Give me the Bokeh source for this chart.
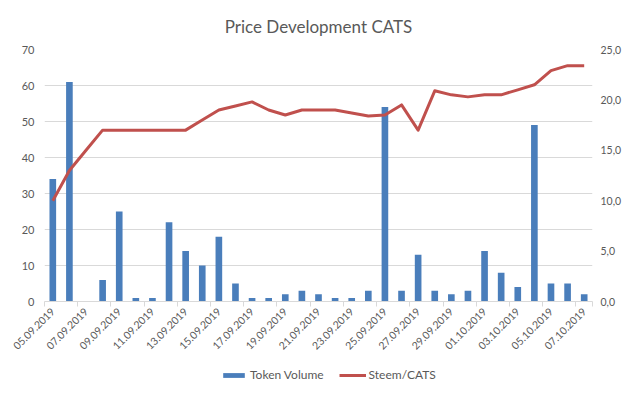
import math
from bokeh.plotting import figure
from bokeh.layouts import column
from bokeh.models import (Range1d, LinearAxis, FixedTicker, Legend, LegendItem,
                          ColumnDataSource)
from bokeh.embed import file_html
from bokeh.resources import INLINE

dates = ["05.09.2019", "06.09.2019", "07.09.2019", "08.09.2019", "09.09.2019",
         "10.09.2019", "11.09.2019", "12.09.2019", "13.09.2019", "14.09.2019",
         "15.09.2019", "16.09.2019", "17.09.2019", "18.09.2019", "19.09.2019",
         "20.09.2019", "21.09.2019", "22.09.2019", "23.09.2019", "24.09.2019",
         "25.09.2019", "26.09.2019", "27.09.2019", "28.09.2019", "29.09.2019",
         "30.09.2019", "01.10.2019", "02.10.2019", "03.10.2019", "04.10.2019",
         "05.10.2019", "06.10.2019", "07.10.2019"]
token_volume = [34, 61, 0, 6, 25, 1, 1, 22, 14, 10, 18, 5, 1, 1, 2, 3, 2, 1, 1, 3,
                54, 3, 13, 3, 2, 3, 14, 8, 4, 49, 5, 5, 2]
steem_cats = [10.0, 13.0, 15.0, 17.0, 17.0, 17.0, 17.0, 17.0, 17.0, 18.0, 19.0,
              19.4, 19.8, 19.0, 18.5, 19.0, 19.0, 19.0, 18.7, 18.4, 18.5, 19.5,
              17.0, 20.9, 20.5, 20.3, 20.5, 20.5, 21.0, 21.5, 22.9, 23.4, 23.4]
left_ticks = [0, 10, 20, 30, 40, 50, 60, 70]
right_ticks = [0, 5, 10, 15, 20, 25]
series_names = ["Token Volume", "Steem/CATS"]

FONT = "Lato"
GREY = "#595959"
BLUE = "#4A7EBB"
RED = "#C0504D"

idx = list(range(len(dates)))
src = ColumnDataSource(dict(x=idx, vol=token_volume, price=steem_cats))

p = figure(width=624, height=362, output_backend="svg", toolbar_location=None,
           x_range=Range1d(-0.5, len(dates) - 0.5), y_range=Range1d(0, 70),
           min_border_left=44, min_border_right=29, min_border_top=48,
           min_border_bottom=61, title="Price Development CATS")
p.extra_y_ranges = {"right": Range1d(0, 25)}
p.outline_line_color = None
p.background_fill_color = "white"
p.border_fill_color = "white"

p.title.align = "center"
p.title.text_font = FONT
p.title.text_font_size = "17px"
p.title.text_font_style = "normal"
p.title.text_color = GREY
p.title.standoff = 26

p.vbar(x="x", top="vol", width=0.4, source=src, fill_color=BLUE, line_color=None)
p.line(x="x", y="price", source=src, y_range_name="right",
       line_color=RED, line_width=3, line_join="round")

# x axis
xa = p.xaxis[0]
xa.ticker = FixedTicker(ticks=[i for i in idx if i % 2 == 0],
                        minor_ticks=[i - 0.5 for i in idx if i % 2 == 0] + [len(dates) - 0.5])
xa.major_label_overrides = {i: dates[i] for i in idx if i % 2 == 0}
xa.major_label_orientation = math.pi / 4
xa.major_tick_in = 0
xa.major_tick_out = 0
xa.minor_tick_in = 0
xa.minor_tick_out = 5
xa.minor_tick_line_color = "#D9D9D9"
xa.axis_line_color = "#D9D9D9"
xa.major_label_text_font = FONT
xa.major_label_text_font_size = "10.5px"
xa.major_label_text_color = GREY
xa.major_label_standoff = 3

# left axis
ya = p.yaxis[0]
ya.ticker = FixedTicker(ticks=left_ticks)
ya.axis_line_color = None
ya.major_tick_line_color = None
ya.major_tick_in = 0
ya.major_tick_out = 0
ya.minor_tick_line_color = None
ya.minor_tick_in = 0
ya.minor_tick_out = 0
ya.major_label_text_font = FONT
ya.major_label_text_font_size = "11px"
ya.major_label_text_color = GREY
ya.major_label_standoff = 10

# right axis
ra = LinearAxis(y_range_name="right", ticker=FixedTicker(ticks=right_ticks))
ra.major_label_overrides = {t: f"{t:.1f}".replace(".", ",") for t in right_ticks}
ra.axis_line_color = None
ra.major_tick_line_color = None
ra.major_tick_in = 0
ra.major_tick_out = 0
ra.minor_tick_line_color = None
ra.minor_tick_in = 0
ra.minor_tick_out = 0
ra.major_label_text_font = FONT
ra.major_label_text_font_size = "10.5px"
ra.major_label_text_color = GREY
ra.major_label_standoff = 8
p.add_layout(ra, "right")

p.xgrid.grid_line_color = None
p.ygrid.grid_line_color = "#D9D9D9"
p.ygrid.ticker = FixedTicker(ticks=left_ticks)

# legend strip below the chart
lg = figure(width=624, height=20, output_backend="svg", toolbar_location=None,
            x_axis_type=None, y_axis_type=None, min_border=0,
            x_range=Range1d(0, 1), y_range=Range1d(0, 1))
lg.outline_line_color = None
lg.grid.grid_line_color = None
dummy = ColumnDataSource(dict(x=[-10, -9], y=[-10, -9]))
lb = lg.vbar(x="x", top="y", width=0.4, source=dummy, fill_color=BLUE, line_color=None)
ll = lg.line(x="x", y="y", source=dummy, line_color=RED, line_width=3)
legend = Legend(items=[LegendItem(label=series_names[0], renderers=[lb]),
                       LegendItem(label=series_names[1], renderers=[ll])],
                orientation="horizontal", location=(176, 0),
                padding=0, margin=0, spacing=15, label_standoff=3,
                glyph_width=27, glyph_height=6, border_line_color=None,
                background_fill_alpha=0, label_text_font=FONT,
                label_text_font_size="12px", label_text_color=GREY)
lg.add_layout(legend)

open("out.html", "w").write(file_html(column(p, lg, spacing=0), INLINE))
